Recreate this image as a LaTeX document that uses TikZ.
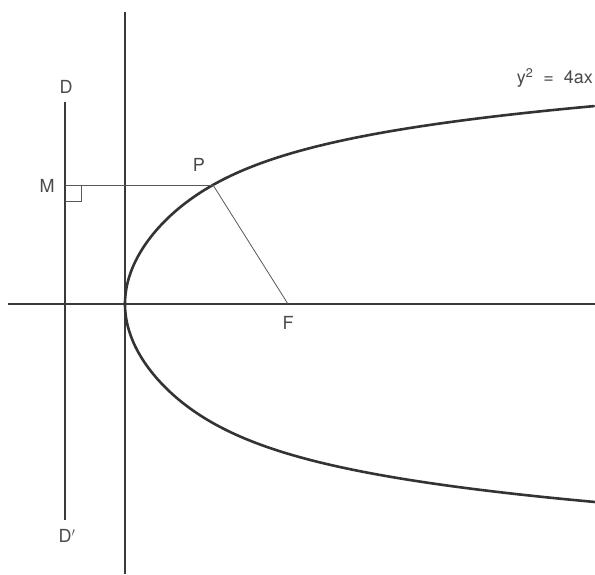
\documentclass[tikz,border=0pt]{standalone}
\usepackage{fontspec}
\setmainfont{TeX Gyre Heros}
\usepackage{xcolor}
\usetikzlibrary{positioning,calc}
\definecolor{inkline}{HTML}{3A3A3A}
\definecolor{inkcurve}{HTML}{333333}
\definecolor{inktext}{HTML}{4A4A4A}
\tikzset{
  axisline/.style={draw=inkline, line width=1.1pt},
  thinline/.style={draw=inkline!85, line width=0.8pt},
  curveline/.style={draw=inkcurve, line width=2.6pt, line cap=round},
  ptlabel/.style={font=\fontsize{18}{21}\selectfont, text=inktext, inner sep=1pt},
}

\begin{document}
\begin{tikzpicture}[x=1pt, y=-1pt]
  \useasboundingbox (0,0) rectangle (595,574);
  % axes and directrix
  \coordinate (ytop) at (125,12);
  \coordinate (ybot) at (125,574);
  \coordinate (xleft) at (8,304);
  \coordinate (xright) at (595,304);
  \coordinate (dtop) at (65,102);
  \coordinate (dbot) at (65,520);
  \draw[axisline] (ytop) -- (ybot);
  \draw[axisline] (xleft) -- (xright);
  \draw[axisline] (dtop) -- (dbot);
  % the curve
  \draw[curveline] plot[smooth, samples=161, domain=-1:1, variable=\u]
    ({125+224*\u*\u+246*\u*\u*\u*\u*\u*\u*abs(\u)}, {304-198*\u});
  % points
  \coordinate (P) at (213,185);
  \coordinate (M) at (65,185);
  \coordinate (F) at (288,304);
  \draw[thinline] (M) -- (P);
  \draw[thinline] (P) -- (F);
  \draw[thinline] ($(M)+(0,16)$) -- ++(16,0) -- ++(0,-16);
  % labels
  \node[ptlabel] (lD) at (66,87) {D};
  \node[ptlabel] (lDd) at (67,536) {D$'$};
  \node[ptlabel] (lM) at (47,186) {M};
  \node[ptlabel] (lP) at (199,165) {P};
  \node[ptlabel] (lF) at (288,323) {F};
  \node[ptlabel, anchor=east] (eqn) at (594,78) {y\textsuperscript{2}\ \ =\ \ 4ax};
\end{tikzpicture}
\end{document}
